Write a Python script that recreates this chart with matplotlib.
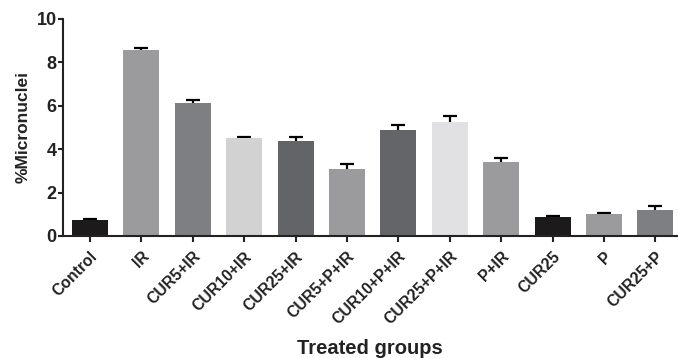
import matplotlib.pyplot as plt
import numpy as np

plt.rcParams['font.family'] = ['Liberation Sans', 'DejaVu Sans']
plt.rcParams['font.weight'] = 'bold'

groups = ['Control', 'IR', 'CUR5+IR', 'CUR10+IR', 'CUR25+IR', 'CUR5+P+IR',
          'CUR10+P+IR', 'CUR25+P+IR', 'P+IR', 'CUR25', 'P', 'CUR25+P']
means = [0.74, 8.57, 6.11, 4.50, 4.38, 3.09, 4.90, 5.27, 3.40, 0.88, 1.01, 1.18]
errs = [0.04, 0.10, 0.15, 0.08, 0.17, 0.21, 0.22, 0.26, 0.21, 0.02, 0.06, 0.20]
colors = ['#1c1a1b', '#9b9b9d', '#7e7f82', '#d2d2d3', '#636467', '#9b9b9d',
          '#646568', '#e1e1e3', '#9b9b9d', '#1c1a1b', '#9b9b9d', '#7e7f82']

fig = plt.figure(figsize=(6.78, 3.58), dpi=100)
ax = fig.add_axes([0.093, 0.341, 0.907, 0.606])

x = np.arange(len(groups))
# error bars behind the bars so only the upper half shows
ax.errorbar(x, means, yerr=errs, fmt='none',
            ecolor='black', elinewidth=1.6, capsize=5, capthick=1.6, zorder=1)
ax.bar(x, means, width=0.70, color=colors, zorder=2)

ax.set_ylim(0, 10)
ax.set_xlim(-0.525, 11.44)
ax.set_yticks([0, 2, 4, 6, 8, 10])
ax.set_xticks(x)
ax.set_xticklabels(groups, rotation=45, ha='right', rotation_mode='anchor', fontsize=11.3)
ax.tick_params(axis='y', labelsize=13, width=1.5, length=3.6, pad=1, colors='#222222')
ax.tick_params(axis='x', width=1.5, length=4.3, pad=5, colors='#222222')
for s in ['top', 'right']:
    ax.spines[s].set_visible(False)
for s in ['left', 'bottom']:
    ax.spines[s].set_linewidth(1.5)
    ax.spines[s].set_color('#222222')

ax.set_ylabel('%Micronuclei', fontsize=12.5, fontweight='bold', labelpad=4, color='#222222')
fig.text(0.546, 0.012, 'Treated groups', ha='center', va='baseline',
         fontsize=14.5, fontweight='bold', color='#222222')

fig.savefig('out.png', dpi=100)
